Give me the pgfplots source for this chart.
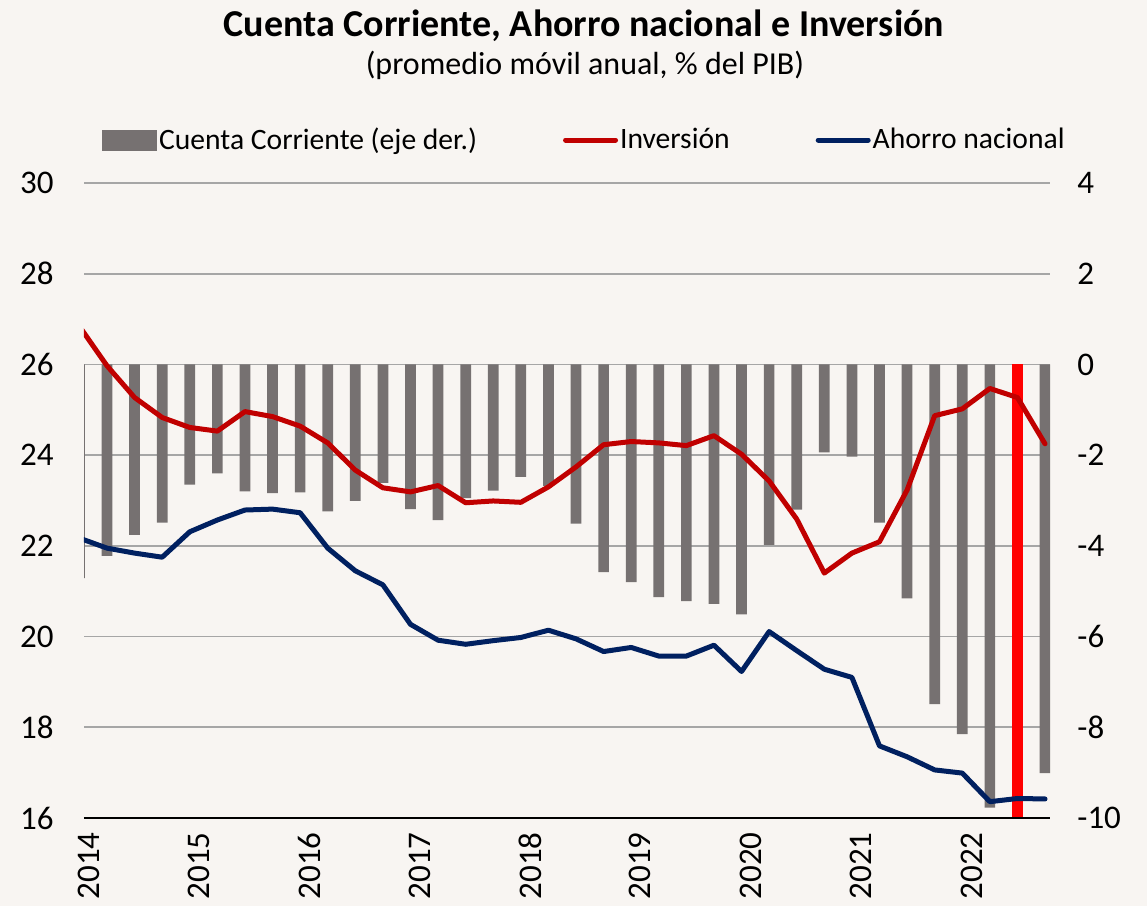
\documentclass[border=0pt]{standalone}
\usepackage{fontspec}
\setmainfont{Carlito}
\usepackage{pgfplots}
\usepackage{pgfplotstable}
\pgfplotsset{compat=1.18}
\definecolor{bgc}{HTML}{F8F5F2}
\definecolor{barc}{HTML}{767171}
\definecolor{redl}{HTML}{C00000}
\definecolor{bluel}{HTML}{002060}
\definecolor{gridc}{HTML}{A6A6A6}
\definecolor{redbar}{HTML}{FF0000}

% Cuenta corriente (right axis), quarter index k
\pgfplotstableread{
k v
-1 -4.71
0 -4.22
1 -3.76
2 -3.49
3 -2.65
4 -2.40
5 -2.80
6 -2.84
7 -2.82
8 -3.24
9 -3.01
10 -2.61
11 -3.19
12 -3.43
13 -2.95
14 -2.78
15 -2.48
16 -2.68
17 -3.51
18 -4.58
19 -4.80
20 -5.13
21 -5.22
22 -5.28
23 -5.51
24 -3.98
25 -3.20
26 -1.94
27 -2.03
28 -3.49
29 -5.16
30 -7.49
31 -8.15
32 -9.77
34 -9.01
}\cc

% Inversion and Ahorro nacional (left axis)
\pgfplotstableread{
k inv aho
-1 26.84 22.17
0 25.97 21.95
1 25.27 21.84
2 24.83 21.75
3 24.61 22.31
4 24.53 22.57
5 24.96 22.79
6 24.85 22.81
7 24.64 22.73
8 24.27 21.95
9 23.67 21.45
10 23.28 21.14
11 23.19 20.27
12 23.33 19.92
13 22.95 19.83
14 22.99 19.91
15 22.96 19.98
16 23.30 20.14
17 23.74 19.95
18 24.23 19.67
19 24.30 19.76
20 24.27 19.57
21 24.21 19.57
22 24.43 19.81
23 24.02 19.23
24 23.43 20.11
25 22.59 19.69
26 21.40 19.28
27 21.84 19.10
28 22.09 17.59
29 23.23 17.35
30 24.87 17.06
31 25.02 16.99
32 25.47 16.36
33 25.27 16.43
34 24.25 16.42
}\lines

\begin{document}
\begin{tikzpicture}
\path[use as bounding box, fill=bgc] (-42pt,-44pt) rectangle (531.5pt,409pt);
\node[anchor=base, font=\fontsize{19}{23}\selectfont\bfseries, inner sep=0pt] at (250pt,390.5pt) {Cuenta Corriente, Ahorro nacional e Inversión};
\node[anchor=base, font=\fontsize{16}{19}\selectfont, inner sep=0pt] at (250.5pt,371.5pt) {(promedio móvil anual, \% del PIB)};

\begin{axis}[
  scale only axis, width=483pt, height=317.5pt,
  at={(0pt,0pt)}, anchor=south west,
  xmin=-0.834, xmax=34.18, ymin=-10, ymax=4,
  hide x axis,
  axis y line*=right,
  y axis line style={draw=none},
  ytick={-10,-8,...,4},
  major tick length=0pt,
  ymajorgrids, grid style={gridc, line width=0.9pt},
  /pgf/number format/assume math mode=true,
  yticklabel style={font=\fontsize{16.5}{19}\selectfont, inner sep=0pt, xshift=13.5pt},
  ybar, bar width=0.388,
]
\addplot[fill=barc, draw=none, bar shift=0pt] table[x=k,y=v]{\cc};
\addplot[fill=redbar, draw=none, bar shift=0pt] coordinates {(33,-10)};
\end{axis}

\begin{axis}[
  scale only axis, width=483pt, height=317.5pt,
  at={(0pt,0pt)}, anchor=south west,
  xmin=-0.834, xmax=34.18, ymin=16, ymax=30,
  axis x line*=bottom, axis y line*=left,
  y axis line style={draw=none},
  x axis line style={black, line width=0.9pt},
  ytick={16,18,...,30},
  xtick={-0.667,3.333,7.333,11.333,15.333,19.333,23.333,27.333,31.333},
  xticklabels={2014,2015,2016,2017,2018,2019,2020,2021,2022},
  major tick length=0pt,
  /pgf/number format/assume math mode=true,
  yticklabel style={font=\fontsize{16.5}{19}\selectfont, inner sep=0pt, xshift=-15pt},
  xticklabel style={font=\fontsize{16.5}{19}\selectfont, inner sep=0pt, rotate=90, anchor=east},
  xticklabel shift=7pt,
  legend columns=3,
  legend cell align=left,
  legend style={draw=none, fill=none, at={(0.0186,1.0677)}, anchor=west, inner sep=0pt,
    font=\fontsize{14.8}{17}\selectfont,
    nodes={inner sep=0pt},
    /tikz/every odd column/.append style={column sep=1pt},
    /tikz/every even column/.append style={column sep=43pt}},
]
\addlegendimage{legend image code/.code={\fill[barc] (0pt,-5pt) rectangle (27pt,5pt);}}
\addplot[redl, line width=2.5pt, line join=round, line cap=round,
  legend image code/.code={\draw[line cap=round] (1pt,0pt) -- (26pt,0pt);}] table[x=k,y=inv]{\lines};
\addplot[bluel, line width=2.5pt, line join=round, line cap=round,
  legend image code/.code={\draw[line cap=round] (1pt,0pt) -- (26pt,0pt);}] table[x=k,y=aho]{\lines};
\legend{Cuenta Corriente (eje der.),Inversión,Ahorro nacional}
\end{axis}
\end{tikzpicture}
\end{document}
